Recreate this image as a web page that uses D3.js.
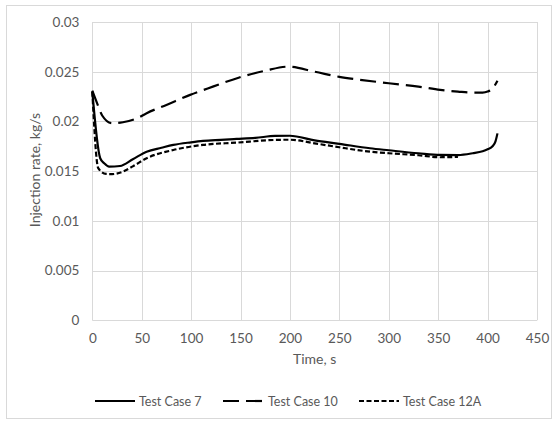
<!DOCTYPE html>
<html>
<head>
<meta charset="utf-8">
<script src="https://cdn.jsdelivr.net/npm/d3@7"></script>
<style>
  html, body { margin: 0; padding: 0; background: #fff; }
  svg { display: block; font-family: Lato, "Open Sans", sans-serif; }
</style>
</head>
<body>
<svg id="chart" width="557" height="423"></svg>
<script>
// Injection rate over time for three test cases
const seriesNames = ["Test Case 7", "Test Case 10", "Test Case 12A"];

const timeCase7 = [0, 8, 12, 17, 28, 41, 55, 70, 82, 100, 112, 130, 146, 165, 185, 200, 225, 250, 281, 300, 330, 352, 370, 385, 395, 400, 405, 408, 410];
const rateCase7 = [0.0230, 0.0163, 0.0158, 0.01545, 0.01552, 0.0162, 0.01696, 0.01735, 0.01764, 0.0179, 0.01804, 0.01815, 0.01824, 0.01835, 0.01854, 0.01856, 0.0181, 0.01775, 0.0173, 0.0171, 0.0168, 0.01663, 0.01662, 0.0168, 0.0170, 0.0172, 0.0175, 0.0180, 0.0188];

const timeCase10 = [0, 5, 10, 20, 31, 45, 55, 75, 99, 122, 148, 175, 198, 225, 250, 270, 300, 330, 352, 370, 385, 395, 400, 405, 410];
const rateCase10 = [0.0231, 0.0218, 0.0206, 0.01982, 0.01992, 0.0203, 0.02083, 0.02166, 0.02267, 0.0235, 0.0244, 0.0251, 0.02551, 0.0250, 0.02448, 0.0242, 0.02384, 0.0235, 0.02317, 0.0230, 0.0229, 0.0229, 0.0230, 0.0233, 0.0241];

const timeCase12A = [0, 6, 14, 20, 31, 41, 55, 82, 112, 146, 185, 200, 225, 250, 281, 300, 330, 352, 370];
const rateCase12A = [0.0230, 0.0153, 0.01472, 0.0147, 0.01495, 0.01548, 0.0163, 0.01713, 0.01764, 0.01787, 0.01814, 0.01816, 0.0178, 0.0174, 0.01696, 0.0168, 0.0166, 0.0164, 0.01643];

const xTicks = [0, 50, 100, 150, 200, 250, 300, 350, 400, 450];
const yTicks = [0, 0.005, 0.01, 0.015, 0.02, 0.025, 0.03];
const yTickLabels = ["0", "0.005", "0.01", "0.015", "0.02", "0.025", "0.03"];

const dashStyles = [null, "16,7", "5,2.5"];

const svg = d3.select("#chart");
const plot = { left: 92.3, right: 537, top: 22, bottom: 320.3 };
const textColor = "#595959";

// outer chart frame
svg.append("rect")
  .attr("x", 6.5).attr("y", 5.5)
  .attr("width", 545).attr("height", 413)
  .attr("fill", "#fff").attr("stroke", "#d9d9d9").attr("stroke-width", 1);

const x = d3.scaleLinear().domain([0, 450]).range([plot.left, plot.right]);
const y = d3.scaleLinear().domain([0, 0.03]).range([plot.bottom, plot.top]);

// gridlines
const grid = svg.append("g").attr("stroke", "#d9d9d9").attr("stroke-width", 1);
grid.selectAll("line.h").data(yTicks).join("line")
  .attr("x1", plot.left).attr("x2", plot.right)
  .attr("y1", d => Math.round(y(d)) + 0.5).attr("y2", d => Math.round(y(d)) + 0.5);
grid.selectAll("line.v").data(xTicks).join("line")
  .attr("y1", plot.top).attr("y2", plot.bottom)
  .attr("x1", d => Math.round(x(d)) + 0.5).attr("x2", d => Math.round(x(d)) + 0.5);

// axes (labels only)
const xAxis = d3.axisBottom(x).tickValues(xTicks).tickSize(0).tickPadding(13).tickFormat(d3.format("d"));
const gx = svg.append("g").attr("transform", `translate(0,${plot.bottom})`).call(xAxis);
gx.select(".domain").remove();
gx.selectAll("text").attr("fill", textColor).attr("font-size", 13.5).attr("font-family", "Lato, sans-serif");

const yAxis = d3.axisLeft(y).tickValues(yTicks).tickSize(0).tickPadding(13)
  .tickFormat((d, i) => yTickLabels[i]);
const gy = svg.append("g").attr("transform", `translate(${plot.left},0)`).call(yAxis);
gy.select(".domain").remove();
gy.selectAll("text").attr("fill", textColor).attr("font-size", 13.5).attr("font-family", "Lato, sans-serif");

// axis titles
svg.append("text")
  .attr("x", (plot.left + plot.right) / 2).attr("y", 364)
  .attr("text-anchor", "middle").attr("fill", textColor).attr("font-size", 14)
  .text("Time, s");
svg.append("text")
  .attr("transform", `translate(40,170) rotate(-90)`)
  .attr("text-anchor", "middle").attr("fill", textColor).attr("font-size", 14)
  .text("Injection rate, kg/s");

// series lines
const series = [
  timeCase7.map((t, i) => [t, rateCase7[i]]),
  timeCase10.map((t, i) => [t, rateCase10[i]]),
  timeCase12A.map((t, i) => [t, rateCase12A[i]])
];
const line = d3.line().x(d => x(d[0])).y(d => y(d[1])).curve(d3.curveMonotoneX);

svg.append("g").selectAll("path").data(series).join("path")
  .attr("d", line)
  .attr("fill", "none")
  .attr("stroke", "#000")
  .attr("stroke-width", 2.2)
  .attr("stroke-linejoin", "round")
  .attr("stroke-dasharray", (d, i) => dashStyles[i]);

// legend
const legendItems = [
  { x1: 95, x2: 135, tx: 139 },
  { x1: 223, x2: 265, tx: 268 },
  { x1: 359, x2: 399, tx: 403 }
];
const lg = svg.append("g");
legendItems.forEach((it, i) => {
  lg.append("line")
    .attr("x1", it.x1).attr("x2", it.x2).attr("y1", 401).attr("y2", 401)
    .attr("stroke", "#000").attr("stroke-width", 2.2)
    .attr("stroke-dasharray", dashStyles[i]);
  lg.append("text")
    .attr("x", it.tx).attr("y", 405.5)
    .attr("fill", textColor).attr("font-size", 12.5)
    .text(seriesNames[i]);
});
</script>
</body>
</html>
